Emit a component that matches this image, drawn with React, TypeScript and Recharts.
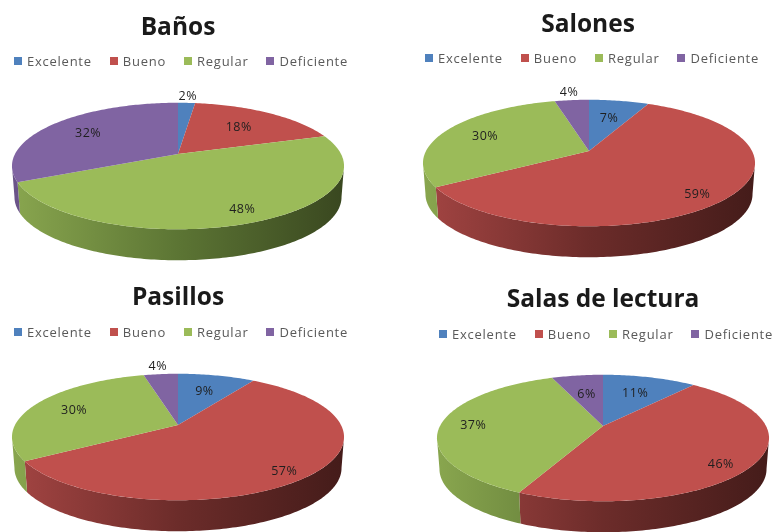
import { PieChart, Pie, Legend } from 'recharts'

const categories = ['Excelente', 'Bueno', 'Regular', 'Deficiente']
const banosValues = [2, 18, 48, 32]
const salonesValues = [7, 59, 30, 4]
const pasillosValues = [9, 57, 30, 4]
const salasValues = [11, 46, 37, 6]

const colors = ['#4f81bd', '#c0504d', '#9bbb59', '#8064a2']
const wallStops = [
  ['#4067a0', '#2c4770', '#203350'],
  ['#a24442', '#6c2c2a', '#451c1a'],
  ['#88a54e', '#5c7534', '#3a4820'],
  ['#6b5489', '#4b3b60', '#302640'],
]

const PERSPECTIVE = 0.19
const TILT = 0.374
const DEPTH = 31
const RADIUS = 163
const PANEL_W = 388
const PANEL_H = 266

const FONT = '"Open Sans", sans-serif'

// where the flat circle lands on screen: near side is bigger than the far side
function project(cx: number, cy: number, r: number, deg: number, f = 1) {
  const a = (deg * Math.PI) / 180
  const u = Math.cos(a)
  const v = -Math.sin(a)
  const d = 1 - PERSPECTIVE * f * v
  return { x: cx + (r * f * u) / d, y: cy + (r * TILT * f * v) / d }
}

function arcPoints(cx: number, cy: number, r: number, from: number, to: number) {
  const steps = Math.max(2, Math.ceil(Math.abs(from - to)))
  const pts = []
  for (let i = 0; i <= steps; i++) {
    pts.push(project(cx, cy, r, from + ((to - from) * i) / steps))
  }
  return pts
}

const toPath = (pts: { x: number; y: number }[]) =>
  pts.map((p, i) => `${i ? 'L' : 'M'}${p.x.toFixed(2)} ${p.y.toFixed(2)}`).join(' ')

function Slice3D(gradPrefix: string) {
  return function SliceShape(props: any) {
    const { cx, cy, outerRadius, startAngle, endAngle, fill, index } = props
    const edge = (Math.asin(PERSPECTIVE) * 180) / Math.PI
    const high = Math.min(startAngle, -edge)
    const low = Math.max(endAngle, -180 + edge)
    let wall = null
    if (high > low) {
      const top = arcPoints(cx, cy, outerRadius, high, low)
      const bottom = top
        .map((p) => ({ x: cx + (p.x - cx) * 0.985, y: p.y + DEPTH }))
        .reverse()
      wall = <path d={toPath([...top, ...bottom]) + ' Z'} fill={`url(#${gradPrefix}${index})`} />
    }
    const face = arcPoints(cx, cy, outerRadius, startAngle, endAngle)
    return (
      <g>
        {wall}
        <path d={toPath([{ x: cx, y: cy }, ...face]) + ' Z'} fill={fill} />
      </g>
    )
  }
}

function legendContent({ payload }: any) {
  return (
    <div style={{ display: 'flex', gap: 18, fontFamily: FONT, fontSize: 13, color: '#595959', letterSpacing: 0.75, whiteSpace: 'nowrap' }}>
      {(payload || []).map((item: any) => (
        <span key={item.value} style={{ display: 'flex', alignItems: 'center', gap: 5 }}>
          <span style={{ width: 8, height: 8, background: item.color, display: 'inline-block' }} />
          {item.value}
        </span>
      ))}
    </div>
  )
}

interface PanelProps {
  id: string
  title: string
  values: number[]
  left: number
  top: number
  cx: number
  cy: number
  titleX: number
  titleY: number
  legendX: number
  legendY: number
  labelRadius: number[]
  labelTurn: number[]
}

function Panel({ id, title, values, left, top, cx, cy, titleX, titleY, legendX, legendY, labelRadius, labelTurn }: PanelProps) {
  const data = categories.map((name, i) => ({ name, value: values[i], fill: colors[i] }))
  const Shape = Slice3D(`${id}-wall-`)

  const renderLabel = (p: any) => {
    const mid = (p.startAngle + p.endAngle) / 2 - labelTurn[p.index]
    const pos = project(p.cx, p.cy, p.outerRadius, mid, labelRadius[p.index])
    return (
      <text
        x={pos.x}
        y={pos.y}
        textAnchor="middle"
        dominantBaseline="central"
        fontFamily={FONT}
        fontSize={12.5}
        letterSpacing={0.5}
        fill="#1f1f1f"
      >
        {p.value}%
      </text>
    )
  }

  return (
    <div style={{ position: 'absolute', left, top, width: PANEL_W, height: PANEL_H }}>
      <PieChart width={PANEL_W} height={PANEL_H} margin={{ top: 0, right: 0, bottom: 0, left: 0 }}>
        <defs>
          {wallStops.map((stops, i) => (
            <linearGradient
              key={i}
              id={`${id}-wall-${i}`}
              gradientUnits="userSpaceOnUse"
              x1={cx - RADIUS}
              x2={cx + RADIUS}
              y1={0}
              y2={0}
            >
              <stop offset="0%" stopColor={stops[0]} />
              <stop offset="50%" stopColor={stops[1]} />
              <stop offset="100%" stopColor={stops[2]} />
            </linearGradient>
          ))}
        </defs>
        <text
          x={titleX}
          y={titleY}
          textAnchor="middle"
          dominantBaseline="central"
          fontFamily={FONT}
          fontWeight={700}
          fontSize={24.5}
          fill="#1a1a1a"
        >
          {title}
        </text>
        <Legend
          content={legendContent}
          itemSorter={null}
          wrapperStyle={{ left: legendX, top: legendY, width: 'auto', bottom: 'auto' }}
        />
        <Pie
          data={data}
          dataKey="value"
          nameKey="name"
          cx={cx}
          cy={cy}
          outerRadius={RADIUS}
          startAngle={90}
          endAngle={-270}
          stroke="none"
          label={renderLabel}
          labelLine={false}
          shape={Shape}
          inactiveShape={Shape}
          activeShape={Shape}
          isAnimationActive={false}
        />
      </PieChart>
    </div>
  )
}

export default function App() {
  return (
    <div
      style={{
        position: 'absolute',
        left: 0,
        top: 0,
        width: 777,
        height: 532,
        overflow: 'hidden',
        background: '#fff',
        filter: 'blur(0.6px)',
      }}
    >
      <Panel id="banos" title="Baños" values={banosValues} left={0} top={0} cx={178} cy={154}
        titleX={178} titleY={25} legendX={14} legendY={52}
        labelRadius={[1.17, 0.64, 0.84, 0.7]} labelTurn={[0, 0, -2, 0]} />
      <Panel id="salones" title="Salones" values={salonesValues} left={389} top={0} cx={200} cy={151}
        titleX={199} titleY={22} legendX={36} legendY={49}
        labelRadius={[0.63, 0.85, 0.72, 1.2]} labelTurn={[0, 5, 0, 0]} />
      <Panel id="pasillos" title="Pasillos" values={pasillosValues} left={0} top={266} cx={178} cy={159}
        titleX={178} titleY={29} legendX={14} legendY={57}
        labelRadius={[0.65, 0.87, 0.72, 1.22]} labelTurn={[0, 4, 0, 0]} />
      <Panel id="salas" title="Salas de lectura" values={salasValues} left={389} top={266} cx={214} cy={160}
        titleX={214} titleY={31} legendX={50} legendY={59}
        labelRadius={[0.65, 0.85, 0.8, 0.6]} labelTurn={[0, 8, 0, 0]} />
    </div>
  )
}
